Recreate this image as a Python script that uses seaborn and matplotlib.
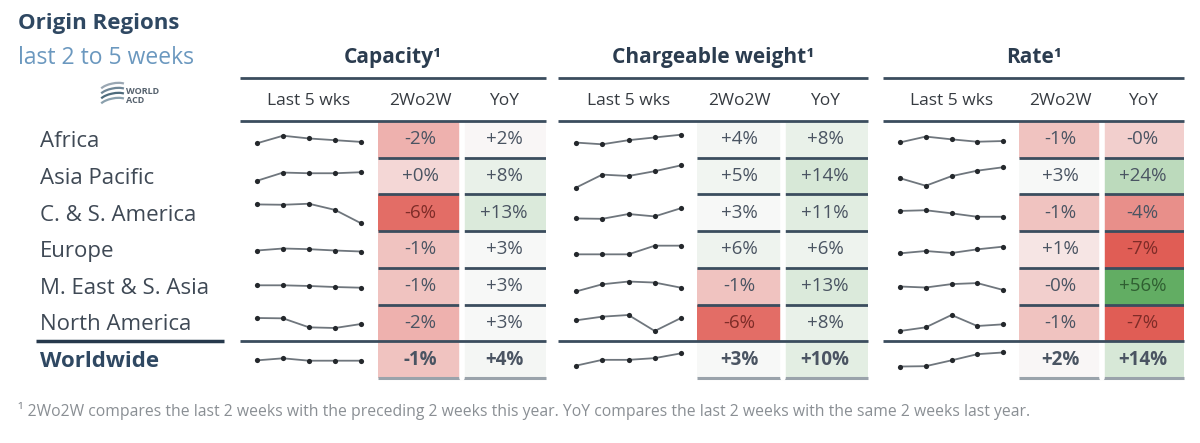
import numpy as np
import pandas as pd
import matplotlib
matplotlib.use('Agg')
import matplotlib.pyplot as plt
from matplotlib import font_manager
from matplotlib.colors import LinearSegmentedColormap, TwoSlopeNorm
from matplotlib.patches import Arc
import seaborn as sns

# Data
regions = ['Africa', 'Asia Pacific', 'C. & S. America', 'Europe',
           'M. East & S. Asia', 'North America', 'Worldwide']
weeks = [1, 2, 3, 4, 5]

# sparkline levels (relative, last 5 weeks)
capacity_trend = [
    [0, 22, 14, 9, 4],
    [0, 24, 22, 22, 25],
    [55, 54, 57, 39, 0],
    [3, 9, 7, 3, 0],
    [7, 7, 5, 2, 0],
    [30, 29, 2, 0, 12],
    [1, 7, 0, 0, 0],
]
weight_trend = [
    [5, 0, 12, 20, 28],
    [0, 38, 34, 48, 65],
    [1, 0, 14, 7, 31],
    [0, 0, 0, 26, 26],
    [0, 21, 29, 26, 11],
    [32, 43, 48, 0, 39],
    [0, 17, 17, 22, 36],
]
rate_trend = [
    [0, 17, 9, 2, 4],
    [22, 0, 28, 44, 54],
    [17, 19, 10, 0, 0],
    [0, 7, 1, 12, 20],
    [10, 7, 17, 20, 0],
    [0, 11, 48, 15, 20],
    [0, 1, 18, 36, 41],
]

# % changes (small fractions keep the "+0%" / "-0%" signs)
capacity_2w = [-2, 0.2, -6, -1, -1, -2, -1]
capacity_yoy = [2, 8, 13, 3, 3, 3, 4]
weight_2w = [4, 5, 3, 6, -1, -6, 3]
weight_yoy = [8, 14, 11, 6, 13, 8, 10]
rate_2w = [-1, 3, -1, 1, -0.3, -1, 2]
rate_yoy = [-0.3, 24, -4, -7, 56, -7, 14]

col_names = ['2Wo2W', 'YoY']

sns.set_theme(style='white')
plt.rcParams['font.family'] = ['Open Sans', 'DejaVu Sans']

names = {f.name for f in font_manager.fontManager.ttflist}
foot_font = 'Liberation Sans Narrow' if 'Liberation Sans Narrow' in names else 'Open Sans'

W, H = 1200, 443
fig = plt.figure(figsize=(W / 100, H / 100), dpi=100)
fig.patch.set_facecolor('white')


def px_axes(x0, y0, x1, y1, **kw):
    return fig.add_axes([x0 / W, 1 - y1 / H, (x1 - x0) / W, (y1 - y0) / H], **kw)


NAVY = '#2f4862'
LINE = '#3b4d5e'
TXT = '#3f4955'

row_edges = [121, 158, 195, 232, 268, 305, 341, 378]

cmap = LinearSegmentedColormap.from_list('rg', ['#e05d55', '#f9f9f9', '#62ad63'])
norm = TwoSlopeNorm(vmin=-7, vcenter=2.2, vmax=56)

# layout of each block: (title, trend, 2wo2w, yoy, block span, spark span, cell span)
blocks = [
    ('Capacity¹', capacity_trend, capacity_2w, capacity_yoy, (240, 546), (257, 361), (378, 546)),
    ('Chargeable weight¹', weight_trend, weight_2w, weight_yoy, (558, 868), (576, 681), (697, 868)),
    ('Rate¹', rate_trend, rate_2w, rate_yoy, (883, 1184), (900, 1003), (1019, 1184)),
]

ov = fig.add_axes([0, 0, 1, 1], zorder=10)
ov.set_xlim(0, W)
ov.set_ylim(H, 0)
ov.axis('off')

for title, trend, v2w, vyoy, (bx0, bx1), (sx0, sx1), (cx0, cx1) in blocks:
    # sparklines
    for i, vals in enumerate(trend):
        ax = px_axes(sx0, row_edges[i], sx1, row_edges[i + 1])
        sns.lineplot(x=weeks, y=vals, ax=ax, color='#6f767d', linewidth=1.3)
        sns.scatterplot(x=weeks, y=vals, ax=ax, color='#24282c', s=14,
                        linewidth=0, clip_on=False, zorder=3)
        mid = (max(vals) + min(vals)) / 2
        ax.set_xlim(1, 5)
        ax.set_ylim(mid - 54, mid + 54)
        for ln in ax.lines:
            ln.set_clip_on(False)
        ax.axis('off')

    # coloured cells
    df = pd.DataFrame({'2Wo2W': v2w, 'YoY': vyoy}, index=regions)[col_names]
    labels = np.array([[f'{a:+.0f}%', f'{b:+.0f}%'] for a, b in zip(v2w, vyoy)])
    hx = px_axes(cx0, row_edges[0], cx1, row_edges[-1])
    sns.heatmap(df, ax=hx, cmap=cmap, norm=norm, annot=labels, fmt='',
                cbar=False, xticklabels=False, yticklabels=False,
                annot_kws=dict(fontsize=13.5))
    hx.set_xlabel('')
    hx.set_ylabel('')
    for k, t in enumerate(hx.texts):
        v = df.values[k // 2, k % 2]
        t.set_color('#7e2c28' if v <= -5 else ('#2f5f31' if v >= 40 else '#4a5462'))
        if k // 2 == len(regions) - 1:
            t.set_fontweight('bold')
    hx.hlines(range(1, 6), 0, 2, color=LINE, linewidth=2)
    hx.hlines(7, 0, 2, color='#9aa3ab', linewidth=2.2, clip_on=False)
    hx.axvline(1, color='white', linewidth=4, clip_on=False)

    # headers and rules
    ov.text((bx0 + bx1) / 2, 57, title, ha='center', va='center',
            fontsize=15, fontweight='bold', color='#2b3c4f')
    for y in (78, 121, 341):
        ov.plot([bx0, bx1], [y, y], color=LINE, linewidth=2, solid_capstyle='butt')
    for label, xc in zip(['Last 5 wks'] + col_names,
                         [(sx0 + sx1) / 2, cx0 + (cx1 - cx0) / 4, cx0 + 3 * (cx1 - cx0) / 4]):
        ov.text(xc, 101, label, ha='center', va='center', fontsize=12.5, color='#363b41')

# left column
ov.text(18, 23, 'Origin Regions', ha='left', va='center', fontsize=16,
        fontweight='bold', color=NAVY)
ov.text(18, 58, 'last 2 to 5 weeks', ha='left', va='center', fontsize=16.5,
        color='#6b98bf')
for i, reg in enumerate(regions):
    yc = (row_edges[i] + row_edges[i + 1]) / 2 + 2
    bold = reg == 'Worldwide'
    ov.text(40, yc, reg, ha='left', va='center', fontsize=16,
            fontweight='bold' if bold else 'normal', color=NAVY if bold else TXT)
ov.plot([36, 224], [341, 341], color='#26394c', linewidth=2.5, solid_capstyle='butt')

# logo
for k, c in enumerate(['#9aa7b3', '#6f8696', '#4e6b7c', '#8aa0ad']):
    ov.add_patch(Arc((113, 88 + k * 5), 26, 9, angle=-12, theta1=190, theta2=350,
                     color=c, linewidth=1.6))
ov.text(126, 91, 'WORLD', ha='left', va='center', fontsize=6.5, fontweight='bold', color='#56626e')
ov.text(126, 100, 'ACD', ha='left', va='center', fontsize=6.5, fontweight='bold', color='#56626e')

# footnote
ov.text(18, 411, '¹ 2Wo2W compares the last 2 weeks with the preceding 2 weeks this year. '
        'YoY compares the last 2 weeks with the same 2 weeks last year.',
        ha='left', va='center', fontsize=11.3, color='#8a8f94', family=foot_font)

fig.savefig('out.png', dpi=100, facecolor='white')
